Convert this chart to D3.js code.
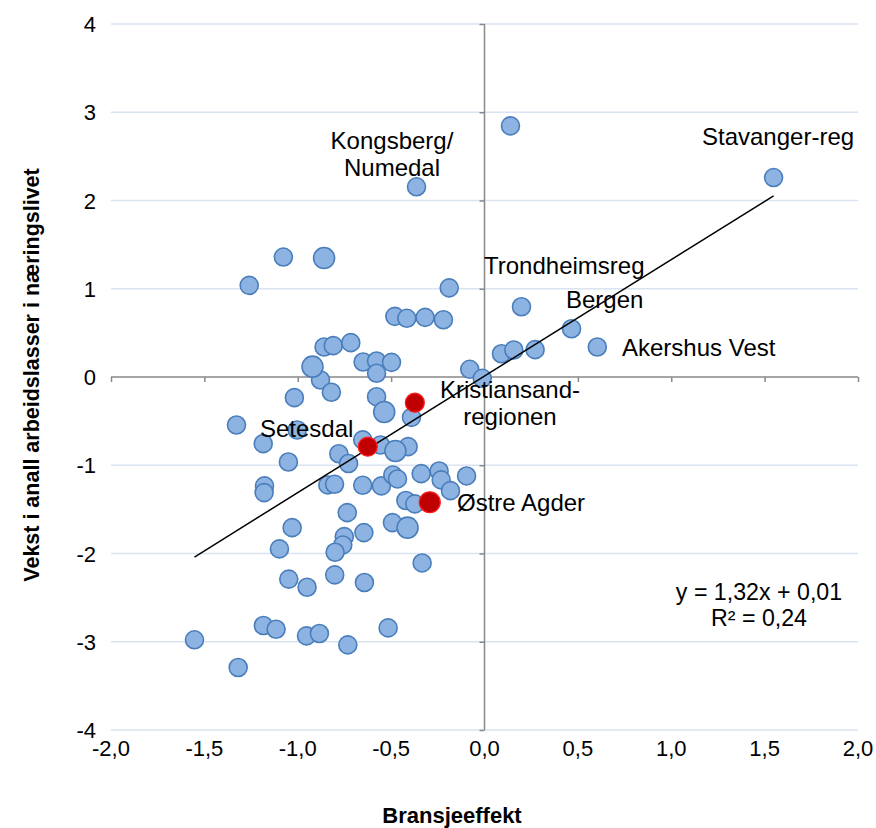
<!DOCTYPE html>
<html>
<head>
<meta charset="utf-8">
<script src="https://cdn.jsdelivr.net/npm/d3@7"></script>
<style>
  html, body { margin: 0; padding: 0; background: #fff; }
  svg { display: block; font-family: "Liberation Sans", Arial, sans-serif; }
</style>
</head>
<body>
<svg id="chart" width="876" height="828"></svg>
<script>
// ---- Data ----
const xTicks = [-2.0, -1.5, -1.0, -0.5, 0.0, 0.5, 1.0, 1.5, 2.0];
const yTicks = [-4, -3, -2, -1, 0, 1, 2, 3, 4];

// Regions (blue markers, normal size): [bransjeeffekt, vekst]
const regionsX = [0.139, 1.548, -0.364, -1.077, -1.26, -0.189, 0.198, -0.48, -0.416, -0.318, -0.22, 0.466, 0.604, 0.091, 0.157, 0.271,
  -0.859, -0.81, -0.716, -0.65, -0.578, -0.498, -0.578, -0.079, -0.012, -0.878, -0.82, -1.018, -0.578, -0.391, -1.328, -1.003,
  -1.185, -0.652, -0.557, -0.409, -0.78, -0.728, -1.05, -1.178, -1.18, -0.839, -0.803, -0.652, -0.552, -0.491, -0.466, -0.339,
  -0.243, -0.232, -0.182, -0.096, -0.421, -0.373, -0.735, -1.03, -0.493, -0.646, -0.751, -0.759, -0.8, -1.098, -0.334, -1.048,
  -0.95, -0.802, -0.643, -1.184, -1.116, -0.953, -0.884, -0.732, -0.516, -1.553, -1.319];
const regionsY = [2.846, 2.26, 2.155, 1.359, 1.038, 1.01, 0.796, 0.687, 0.665, 0.676, 0.649, 0.547, 0.34, 0.264, 0.306, 0.31,
  0.34, 0.355, 0.389, 0.17, 0.181, 0.166, 0.042, 0.087, -0.015, -0.034, -0.173, -0.234, -0.223, -0.457, -0.544, -0.6,
  -0.755, -0.713, -0.77, -0.789, -0.87, -0.98, -0.963, -1.234, -1.31, -1.223, -1.215, -1.227, -1.234, -1.11, -1.155, -1.095,
  -1.065, -1.166, -1.288, -1.121, -1.4, -1.438, -1.537, -1.707, -1.65, -1.763, -1.809, -1.903, -1.986, -1.948, -2.107, -2.29,
  -2.382, -2.242, -2.329, -2.816, -2.858, -2.933, -2.907, -3.035, -2.843, -2.978, -3.292];

// Regions drawn with larger blue markers
const largeX = [-0.859, -0.921, -0.537, -0.477, -0.412];
const largeY = [1.348, 0.117, -0.396, -0.838, -1.707];

// Agder regions (red markers)
const agderNames = ["Kristiansandregionen", "Setesdal", "Østre Agder"];
const agderX = [-0.373, -0.625, -0.293];
const agderY = [-0.291, -0.789, -1.419];

// Linear trend (from the chart's equation)
const trendSlope = 1.32;
const trendIntercept = 0.01;
const equationLines = ["y = 1,32x + 0,01", "R² = 0,24"];

// Point labels
const labelTexts = [["Kongsberg/", "Numedal"], ["Stavanger-reg"], ["Trondheimsreg"], ["Bergen"], ["Akershus Vest"],
  ["Kristiansand-", "regionen"], ["Setesdal"], ["Østre Agder"]];

const xTitle = "Bransjeeffekt";
const yTitle = "Vekst i anall arbeidslasser i næringslivet";

// ---- Drawing ----
const svg = d3.select("#chart");
const x = d3.scaleLinear().domain([-2, 2]).range([111, 858]);
const y = d3.scaleLinear().domain([-4, 4]).range([730, 24]);
const fmtX = v => d3.format(".1f")(v).replace(".", ",").replace("−", "-");
const FS = 22;

// gridlines
svg.append("g").selectAll("line").data(yTicks.filter(v => v !== 0)).join("line")
  .attr("x1", x(-2)).attr("x2", x(2))
  .attr("y1", d => y(d)).attr("y2", d => y(d))
  .attr("stroke", "#dae3f1").attr("stroke-width", 1.5);

// x axis at y=0
const xAxis = d3.axisBottom(x).tickValues(xTicks).tickSize(5).tickFormat("");
const gx = svg.append("g").attr("transform", `translate(0,${y(0)})`).call(xAxis);
gx.select(".domain").attr("stroke", "#898989").attr("stroke-width", 1.5).attr("d", `M${x(-2)},0H${x(2)}`);
gx.selectAll(".tick line").attr("stroke", "#898989").attr("stroke-width", 1.5);

// y axis at x=0
const yAxis = d3.axisLeft(y).tickValues(yTicks).tickSize(5).tickFormat("");
const gy = svg.append("g").attr("transform", `translate(${x(0)},0)`).call(yAxis);
gy.select(".domain").attr("stroke", "#898989").attr("stroke-width", 1.5).attr("d", `M0,${y(4)}V${y(-4)}`);
gy.selectAll(".tick line").attr("stroke", "#898989").attr("stroke-width", 1.5);

// tick labels
svg.append("g").selectAll("text").data(yTicks).join("text")
  .attr("x", 96).attr("y", d => y(d) + 8)
  .attr("text-anchor", "end").attr("font-size", FS).attr("fill", "#000")
  .text(d => String(d));
svg.append("g").selectAll("text").data(xTicks).join("text")
  .attr("x", d => x(d)).attr("y", 756)
  .attr("text-anchor", "middle").attr("font-size", FS).attr("fill", "#000")
  .text(d => fmtX(d));

// axis titles
svg.append("text").attr("x", 452).attr("y", 823).attr("text-anchor", "middle")
  .attr("font-size", FS).attr("font-weight", "bold").text(xTitle);
svg.append("text").attr("transform", "translate(39,375) rotate(-90)").attr("text-anchor", "middle")
  .attr("font-size", 21.5).attr("font-weight", "bold").text(yTitle);

// blue points
const blue = regionsX.map((v, i) => [v, regionsY[i]]);
const big = largeX.map((v, i) => [v, largeY[i]]);
const red = agderX.map((v, i) => [v, agderY[i], agderNames[i]]);

svg.append("g").selectAll("circle").data(blue).join("circle")
  .attr("cx", d => x(d[0])).attr("cy", d => y(d[1])).attr("r", 9)
  .attr("fill", "#8db3e2").attr("stroke", "#4a7ebb").attr("stroke-width", 1.6);
svg.append("g").selectAll("circle").data(big).join("circle")
  .attr("cx", d => x(d[0])).attr("cy", d => y(d[1])).attr("r", 10.5)
  .attr("fill", "#8db3e2").attr("stroke", "#4a7ebb").attr("stroke-width", 1.6);

// trend line spanning data x-range
const allX = regionsX.concat(largeX, agderX);
const x0 = d3.min(allX), x1 = d3.max(allX);
svg.append("line")
  .attr("x1", x(x0)).attr("y1", y(trendSlope * x0 + trendIntercept))
  .attr("x2", x(x1)).attr("y2", y(trendSlope * x1 + trendIntercept))
  .attr("stroke", "#000").attr("stroke-width", 1.5);

// red points
svg.append("g").selectAll("circle").data(red).join("circle")
  .attr("cx", d => x(d[0])).attr("cy", d => y(d[1])).attr("r", (d, i) => i === 2 ? 10.5 : 9.5)
  .attr("fill", "#c00000").attr("stroke", "#ff1a1a").attr("stroke-width", 1.2);

// labels
const labelPos = [
  {x: 392, y: 149, anchor: "middle"},
  {x: 702, y: 145, anchor: "start"},
  {x: 484, y: 274, anchor: "start"},
  {x: 566, y: 308, anchor: "start"},
  {x: 622, y: 356, anchor: "start"},
  {x: 510, y: 398, anchor: "middle"},
  {x: 260, y: 437, anchor: "start"},
  {x: 457, y: 511, anchor: "start"}
];
const lg = svg.append("g");
labelTexts.forEach((lines, i) => {
  const p = labelPos[i];
  const t = lg.append("text").attr("x", p.x).attr("y", p.y).attr("text-anchor", p.anchor)
    .attr("font-size", 24).attr("fill", "#000");
  lines.forEach((s, j) => t.append("tspan").attr("x", p.x).attr("dy", j === 0 ? 0 : 26.5).text(s));
});

// equation
const eq = svg.append("text").attr("x", 759).attr("y", 600).attr("text-anchor", "middle")
  .attr("font-size", 23.2).attr("fill", "#000");
equationLines.forEach((s, j) => eq.append("tspan").attr("x", 759).attr("dy", j === 0 ? 0 : 26).text(s));
</script>
</body>
</html>
